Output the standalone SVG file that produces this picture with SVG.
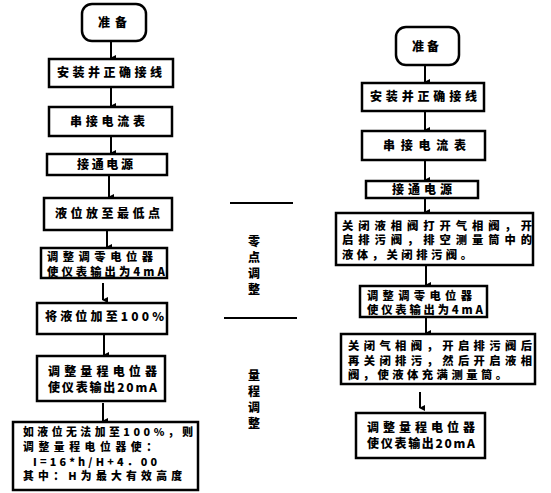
<svg xmlns="http://www.w3.org/2000/svg" width="551" height="493" viewBox="0 0 551 493">
<defs>
<style>
.b{fill:#fff;stroke:#000;stroke-width:2.5}
.t{font-family:"Noto Sans CJK SC","Noto Sans",sans-serif;font-weight:900;font-size:12px;fill:#000}
.s{font-size:11.3px}
.x{font-size:10.8px}
.c{text-anchor:middle}
.l{stroke:#000;stroke-width:2;fill:none}
</style>
<marker id="ah" markerWidth="6" markerHeight="6" refX="3" refY="5" orient="auto" markerUnits="userSpaceOnUse" viewBox="0 0 6 6">
<path d="M0,0 L6,0 L3,6 Z" fill="#000"/>
</marker>
</defs>
<rect width="551" height="493" fill="#fff"/>
<g id="connectors">
<line class="l" x1="111" y1="41" x2="111" y2="58" marker-end="url(#ah)"/>
<line class="l" x1="111" y1="87" x2="111" y2="106" marker-end="url(#ah)"/>
<line class="l" x1="111" y1="136" x2="111" y2="153" marker-end="url(#ah)"/>
<line class="l" x1="109" y1="175" x2="109" y2="197" marker-end="url(#ah)"/>
<line class="l" x1="107" y1="230" x2="107" y2="247" marker-end="url(#ah)"/>
<line class="l" x1="103" y1="283" x2="103" y2="300" marker-end="url(#ah)"/>
<line class="l" x1="104" y1="334" x2="104" y2="355" marker-end="url(#ah)"/>
<line class="l" x1="103" y1="403" x2="103" y2="421" marker-end="url(#ah)"/>
<line class="l" x1="425" y1="65" x2="425" y2="82" marker-end="url(#ah)"/>
<line class="l" x1="425" y1="111" x2="425" y2="130" marker-end="url(#ah)"/>
<line class="l" x1="425" y1="160" x2="425" y2="180" marker-end="url(#ah)"/>
<line class="l" x1="425" y1="198" x2="425" y2="212" marker-end="url(#ah)"/>
<line class="l" x1="426" y1="265" x2="426" y2="285" marker-end="url(#ah)"/>
<line class="l" x1="426" y1="317" x2="426" y2="333" marker-end="url(#ah)"/>
<line class="l" x1="420" y1="392" x2="420" y2="408" marker-end="url(#ah)"/>
</g>
<g id="divider">
<line class="l" x1="230" y1="203" x2="293" y2="203"/>
<line class="l" x1="224" y1="318" x2="297" y2="318"/>
<text class="t c" x="254" y="246">零</text>
<text class="t c" x="254" y="262">点</text>
<text class="t c" x="254" y="278">调</text>
<text class="t c" x="254" y="294">整</text>
<text class="t c" x="254" y="380">量</text>
<text class="t c" x="254" y="396">程</text>
<text class="t c" x="254" y="412">调</text>
<text class="t c" x="254" y="428">整</text>
</g>
<g id="L1"><rect class="b" x="82" y="4" width="64" height="37" rx="10"/><text class="t" x="98" y="27" textLength="29" lengthAdjust="spacing">准备</text></g>
<g id="L2"><rect class="b" x="49" y="59" width="124" height="28"/><text class="t" x="57" y="77" textLength="105" lengthAdjust="spacing">安装并正确接线</text></g>
<g id="L3"><rect class="b" x="49" y="107" width="123" height="29"/><text class="t" x="70" y="126" textLength="75" lengthAdjust="spacing">串接电流表</text></g>
<g id="L4"><rect class="b" x="47" y="154" width="120" height="21"/><text class="t" x="77" y="169" textLength="56" lengthAdjust="spacing">接通电源</text></g>
<g id="L5"><rect class="b" x="44" y="198" width="128" height="32"/><text class="t" x="55" y="218" textLength="105" lengthAdjust="spacing">液位放至最低点</text></g>
<g id="L6"><rect class="b" x="41" y="248" width="126" height="30"/><text class="t s" x="47" y="261" textLength="106" lengthAdjust="spacing">调整调零电位器</text><text class="t s" x="47" y="276" textLength="118" lengthAdjust="spacing">使仪表输出为4mA</text></g>
<g id="L7"><rect class="b" x="37" y="303" width="130" height="31"/><text class="t" x="45" y="321" textLength="119" lengthAdjust="spacing">将液位加至100%</text></g>
<g id="L8"><rect class="b" x="37" y="356" width="128" height="45"/><text class="t" x="48" y="376" textLength="109" lengthAdjust="spacing">调整量程电位器</text><text class="t" x="48" y="392" textLength="109" lengthAdjust="spacing">使仪表输出20mA</text></g>
<g id="L9"><rect class="b" x="13" y="422" width="185" height="68"/><text class="t x" x="23" y="436.3" textLength="170" lengthAdjust="spacing">如液位无法加至100%，则</text><text class="t x" x="23" y="451" textLength="134" lengthAdjust="spacing">调整量程电位器使：</text><text class="t x" x="33" y="465.7" textLength="124" lengthAdjust="spacing">I=16*h/H+4．00</text><text class="t x" x="23" y="480.4" textLength="159" lengthAdjust="spacing">其中：H为最大有效高度</text></g>
<g id="R1"><rect class="b" x="396" y="27" width="63" height="38" rx="10"/><text class="t" x="412" y="51" textLength="27" lengthAdjust="spacing">准备</text></g>
<g id="R2"><rect class="b" x="362" y="83" width="122" height="28"/><text class="t" x="370" y="101" textLength="107" lengthAdjust="spacing">安装并正确接线</text></g>
<g id="R3"><rect class="b" x="362" y="131" width="123" height="29"/><text class="t" x="383" y="150" textLength="83" lengthAdjust="spacing">串接电流表</text></g>
<g id="R4"><rect class="b" x="366" y="181" width="112" height="17"/><text class="t" x="392" y="194" textLength="60" lengthAdjust="spacing">接通电源</text></g>
<g id="R5"><rect class="b" x="336" y="213" width="197" height="52"/><text class="t s" x="342" y="229.5" textLength="190" lengthAdjust="spacing">关闭液相阀打开气相阀，开</text><text class="t s" x="342" y="244" textLength="190" lengthAdjust="spacing">启排污阀，排空测量筒中的</text><text class="t s" x="342" y="258.5" textLength="130" lengthAdjust="spacing">液体，关闭排污阀。</text></g>
<g id="R6"><rect class="b" x="360" y="286" width="127" height="31"/><text class="t s" x="367" y="299.5" textLength="105" lengthAdjust="spacing">调整调零电位器</text><text class="t s" x="367" y="314" textLength="116" lengthAdjust="spacing">使仪表输出为4mA</text></g>
<g id="R7"><rect class="b" x="341" y="334" width="194" height="50"/><text class="t s" x="348" y="350" textLength="184" lengthAdjust="spacing">关闭气相阀，开启排污阀后</text><text class="t s" x="348" y="364.5" textLength="184" lengthAdjust="spacing">再关闭排污，然后开启液相</text><text class="t s" x="348" y="379" textLength="159" lengthAdjust="spacing">阀，使液体充满测量筒。</text></g>
<g id="R8"><rect class="b" x="356" y="413" width="129" height="45"/><text class="t" x="367" y="432" textLength="108" lengthAdjust="spacing">调整量程电位器</text><text class="t" x="367" y="448" textLength="108" lengthAdjust="spacing">使仪表输出20mA</text></g>
</svg>
